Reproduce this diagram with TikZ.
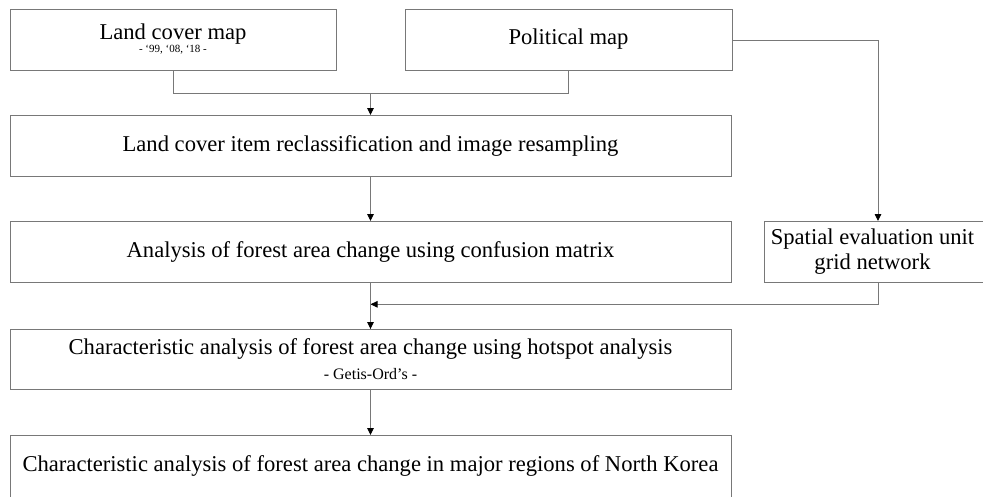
\documentclass[tikz,border=0pt]{standalone}
\usepackage{fontspec}
\setmainfont{Liberation Serif}
\usetikzlibrary{arrows.meta,calc}
\definecolor{linegray}{RGB}{120,120,120}
\tikzset{
  box/.style={draw=linegray, line width=0.9pt, rectangle, inner sep=0pt, outer sep=0pt,
    align=center, font=\fontsize{22.6}{27}\selectfont, text=black},
  conn/.style={draw=linegray, line width=0.9pt},
  arr/.style={conn, -{Triangle[length=7pt,width=6.5pt,color=black]}}
}
\newcommand{\gr}{{\char"60}}
\begin{document}
\begin{tikzpicture}[x=1pt,y=-1pt]
\useasboundingbox (0,0) rectangle (983,496);
\begin{scope}
\clip (0,0) rectangle (983,496);
\node[box, minimum width=326pt, minimum height=61pt] (lc) at (173,39.5)
  {Land cover map\\[-14pt]{\fontsize{11}{13}\selectfont - \gr99, \gr08, \gr18 -}};
\node[box, minimum width=327pt, minimum height=61pt] (pm) at (568.5,39.5) {Political map};
\node[box, minimum width=721pt, minimum height=61pt] (b2) at (370.5,145.5)
  {Land cover item reclassification and image resampling};
\node[box, minimum width=721pt, minimum height=61pt] (b3) at (370.5,251.5)
  {Analysis of forest area change using confusion matrix};
\node[box, minimum width=228pt, minimum height=61pt] (se) at (878,251.5)
  {Spatial evaluation unit\hspace*{11pt}\\[-2pt]grid network\hspace*{11pt}};
\node[box, minimum width=721pt, minimum height=60pt] (b4) at (370.5,359)
  {Characteristic analysis of forest area change using hotspot analysis\\[-2pt]{\fontsize{16}{18}\selectfont - Getis-Ord’s -}};
\node[box, minimum width=721pt, minimum height=62pt] (b5) at (370.5,466)
  {Characteristic analysis of forest area change in major regions of North Korea};
\end{scope}
% connectors
\coordinate (j1) at (370.5,93.3);
\draw[conn] (lc.south) |- (j1) -| (pm.south);
\draw[arr] (j1) -- (b2.north);
\draw[arr] (b2.south) -- (b3.north);
\draw[arr] (pm.east |- 0,40.3) -| (se.north);
\draw[conn] (b3.south) -- (b4.north);
\coordinate (j2) at (370.5,304.3);
\draw[arr] (se.south) |- (j2);
\draw[arr] (j2) -- (b4.north);
\draw[arr] (b4.south) -- (b5.north);
\end{tikzpicture}
\end{document}
